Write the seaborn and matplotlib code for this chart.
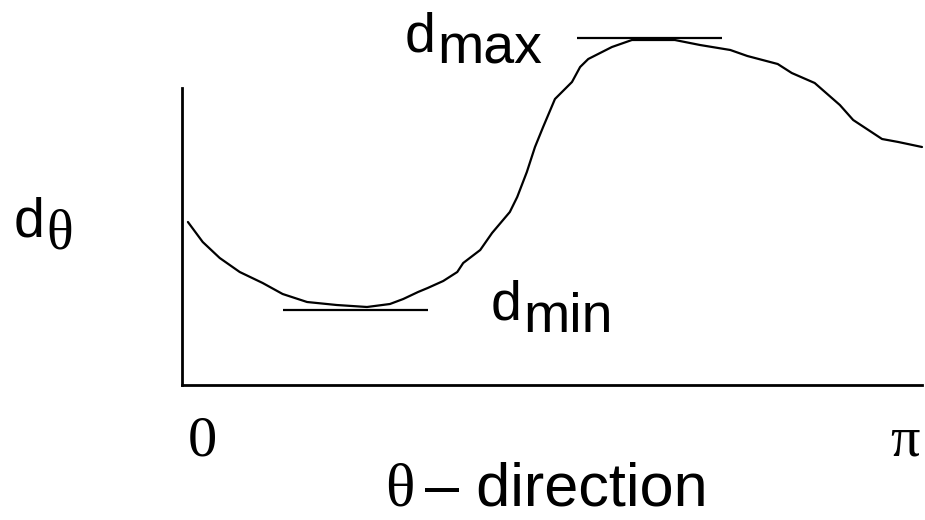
import numpy as np
import pandas as pd
import seaborn as sns
import matplotlib.pyplot as plt

# curve: theta as a fraction of pi, d in arbitrary units
theta_frac = [0.008, 0.028, 0.051, 0.078, 0.109, 0.136, 0.169, 0.209, 0.250, 0.281,
              0.299, 0.319, 0.332, 0.353, 0.372, 0.380, 0.403, 0.419, 0.443, 0.453,
              0.466, 0.477, 0.488, 0.504, 0.527, 0.538, 0.549, 0.581, 0.608, 0.666,
              0.700, 0.741, 0.764, 0.805, 0.824, 0.855, 0.889, 0.907, 0.946, 0.968, 1.000]
d_theta = [1.63, 1.43, 1.27, 1.13, 1.02, 0.91, 0.83, 0.80, 0.78, 0.81,
           0.86, 0.93, 0.97, 1.04, 1.13, 1.22, 1.35, 1.52, 1.73, 1.88,
           2.13, 2.38, 2.58, 2.86, 3.03, 3.18, 3.26, 3.38, 3.45, 3.45,
           3.40, 3.35, 3.29, 3.21, 3.12, 3.02, 2.80, 2.65, 2.46, 2.43, 2.38]

# tangent markers at the extremes
d_max, max_span = 3.47, [0.534, 0.730]
d_min, min_span = 0.75, [0.136, 0.332]

tick_labels = ['0', 'π']

df = pd.DataFrame({'theta': np.array(theta_frac) * np.pi, 'd': d_theta})

sns.set_style('white')
plt.rcParams['font.family'] = ['Liberation Sans', 'DejaVu Sans']
plt.rcParams['text.color'] = 'black'

W, H = 925, 520
fig = plt.figure(figsize=(W / 100, H / 100), dpi=100)
ax = fig.add_axes([182 / W, (H - 385) / H, (922 - 182) / W, (385 - 30) / H])

sns.lineplot(data=df, x='theta', y='d', ax=ax, color='black', lw=1.6,
             sort=False, estimator=None, clip_on=False)
ax.hlines(d_max, max_span[0] * np.pi, max_span[1] * np.pi, color='black', lw=1.6)
ax.hlines(d_min, min_span[0] * np.pi, min_span[1] * np.pi, color='black', lw=1.6)

ax.set_xlim(0, np.pi)
ax.set_ylim(0, 3.55)
ax.set_xticks([])
ax.set_yticks([])
ax.set_xlabel('')
ax.set_ylabel('')
for s in ['top', 'right']:
    ax.spines[s].set_visible(False)
for s in ['left', 'bottom']:
    ax.spines[s].set_color('black')
    ax.spines[s].set_linewidth(2)
ax.spines['left'].set_bounds(0, 2.97)


def px(x, y):
    return x / W, 1 - y / H


def label(x, y, main, sub, sub_family='Liberation Sans'):
    # subscript sits on the bottom of the main letter's box (about 12 px lower)
    t = fig.text(*px(x, y), main, fontsize=40, ha='left', va='baseline')
    ax.annotate(sub, xy=(1, 0), xycoords=t, xytext=(1, 0), textcoords='offset points',
                fontsize=40, ha='left', va='baseline', family=sub_family)


label(405, 52, 'd', 'max')
label(491, 320, 'd', 'min')
label(14, 237, 'd', 'θ', sub_family='Liberation Serif')

# x tick labels in serif
fig.text(*px(202, 455), tick_labels[0], fontsize=42, ha='center', va='baseline',
         family='Liberation Serif')
fig.text(*px(905, 455), tick_labels[1], fontsize=42, ha='center', va='baseline',
         family='Liberation Serif')

# axis title: serif theta, sans rest
fig.text(*px(385, 506), 'θ', fontsize=44, ha='left', va='baseline',
         family='Liberation Serif')
fig.text(*px(425, 506), '– direction', fontsize=44, ha='left', va='baseline')

fig.savefig('out.png', dpi=100, facecolor='white')
